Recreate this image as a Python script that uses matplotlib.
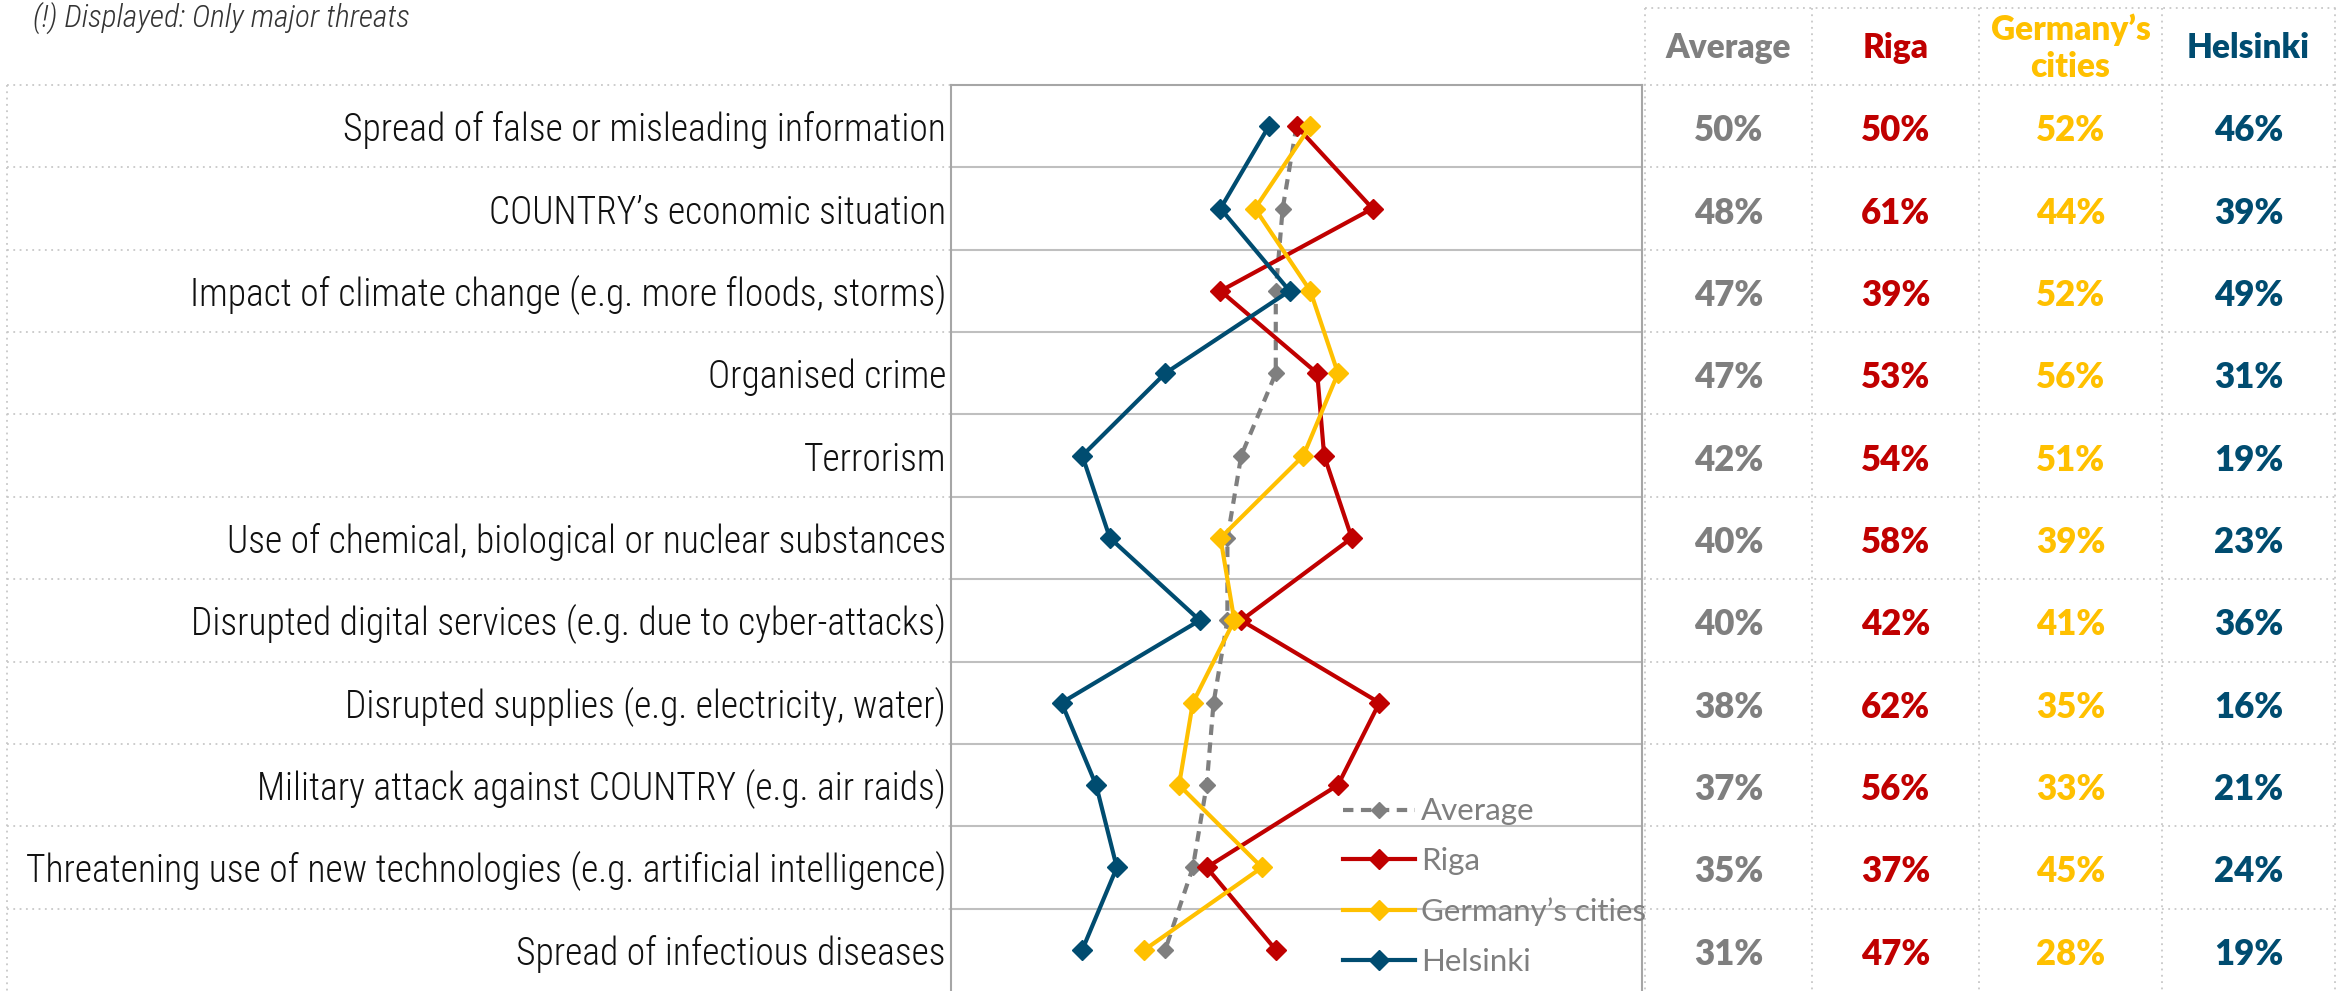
import matplotlib.pyplot as plt
import matplotlib.font_manager as fm
import numpy as np

# Data
threats = [
    'Spread of false or misleading information',
    'COUNTRY’s economic situation',
    'Impact of climate change (e.g. more floods, storms)',
    'Organised crime',
    'Terrorism',
    'Use of chemical, biological or nuclear substances',
    'Disrupted digital services (e.g. due to cyber-attacks)',
    'Disrupted supplies (e.g. electricity, water)',
    'Military attack against COUNTRY (e.g. air raids)',
    'Threatening use of new technologies (e.g. artificial intelligence)',
    'Spread of infectious diseases',
]
average = [50, 48, 47, 47, 42, 40, 40, 38, 37, 35, 31]
riga = [50, 61, 39, 53, 54, 58, 42, 62, 56, 37, 47]
germany = [52, 44, 52, 56, 51, 39, 41, 35, 33, 45, 28]
helsinki = [46, 39, 49, 31, 19, 23, 36, 16, 21, 24, 19]

series_names = ['Average', 'Riga', 'Germany’s cities', 'Helsinki']
header_labels = ['Average', 'Riga', 'Germany’s\ncities', 'Helsinki']
note = '(!) Displayed: Only major threats'

colors = ['#7F7F7F', '#C00000', '#FFC000', '#004C70']


def pick(*names):
    for n in names:
        try:
            fm.findfont(fm.FontProperties(family=n), fallback_to_default=False)
            return n
        except ValueError:
            pass
    return 'DejaVu Sans'


narrow = pick('Liberation Sans Narrow', 'Roboto Condensed', 'Open Sans Condensed', 'Liberation Sans')
bold_font = pick('Lato', 'Open Sans', 'DejaVu Sans')

W, H = 2338, 991
fig = plt.figure(figsize=(W / 100, H / 100), dpi=100)

# background layer in pixel coordinates (table, labels, dotted grid)
bg = fig.add_axes([0, 0, 1, 1])
bg.set_xlim(0, W)
bg.set_ylim(H, 0)
bg.axis('off')

n = len(threats)
top = 85
row_h = (H - top) / n
row_centers = top + row_h * (np.arange(n) + 0.5)

dot = dict(color='#C8C8C8', lw=1.3, ls=(0, (1, 2.5)))
for k in range(n):
    yk = top + k * row_h
    bg.plot([7, W], [yk, yk], **dot)
bg.plot([7, 7], [top, H], **dot)
col_edges = [1645, 1812, 1979, 2162, 2335]
bg.plot([col_edges[0], W], [8, 8], **dot)
for xe in col_edges:
    bg.plot([xe, xe], [8, H], **dot)
col_centers = [(col_edges[i] + col_edges[i + 1]) / 2 for i in range(4)]

# fit the label font size to the reference width of the longest label
fs = 26
probe = bg.text(0, 0, threats[9], fontsize=fs, family=narrow, weight='light')
fig.canvas.draw()
fs = fs * 920 / probe.get_window_extent().width
probe.remove()

for i, lab in enumerate(threats):
    bg.text(946, row_centers[i] + 15, lab, ha='right', va='baseline', fontsize=fs,
            family=narrow, weight='light', color='#111111')

probe = bg.text(0, 0, note, fontsize=18, family=narrow, style='italic', weight='light')
fig.canvas.draw()
nfs = 18 * 377 / probe.get_window_extent().width
probe.remove()
bg.text(33, 18, note, ha='left', va='center', fontsize=nfs, family=narrow,
        style='italic', weight='light', color='#333333')

# right-hand table
values = [average, riga, germany, helsinki]
for j in range(4):
    bg.text(col_centers[j], 48, header_labels[j], ha='center', va='center',
            fontsize=24, weight='heavy', family=bold_font, color=colors[j],
            linespacing=1.2)
    for i in range(n):
        bg.text(col_centers[j], row_centers[i] + 15, f'{values[j][i]}%', ha='center',
                va='baseline', fontsize=25, weight='heavy', family=bold_font,
                color=colors[j])

# line chart
ax = fig.add_axes([951 / W, 0, (1642 - 951) / W, (H - top) / H])
ax.set_xlim(0, 100)
ax.set_ylim(n, 0)
y = np.arange(n) + 0.5
ax.set_yticks(np.arange(1, n))
ax.yaxis.grid(True, color='#BFBFBF', lw=1.5)
ax.set_xticks([])
ax.tick_params(axis='y', length=0, labelleft=False)
for s in ['top', 'left', 'right']:
    ax.spines[s].set_color('#A6A6A6')
    ax.spines[s].set_linewidth(1.5)
ax.spines['bottom'].set_visible(False)

ax.plot(average, y, color=colors[0], ls=(0, (2.5, 1.8)), lw=3, marker='D', ms=8.5,
        label=series_names[0])
ax.plot(riga, y, color=colors[1], lw=3, marker='D', ms=10, label=series_names[1])
ax.plot(germany, y, color=colors[2], lw=3, marker='D', ms=10, label=series_names[2])
ax.plot(helsinki, y, color=colors[3], lw=3, marker='D', ms=10, label=series_names[3])

ax.legend(frameon=False, loc='upper left', bbox_to_anchor=(0.567, 0.2136),
          prop=dict(family=bold_font, size=22.5, weight='normal'), labelcolor='#7F7F7F',
          handlelength=2.3, handletextpad=0.2, labelspacing=0.7,
          borderpad=0, borderaxespad=0, numpoints=1)

fig.savefig('out.png', dpi=100, facecolor='white')
